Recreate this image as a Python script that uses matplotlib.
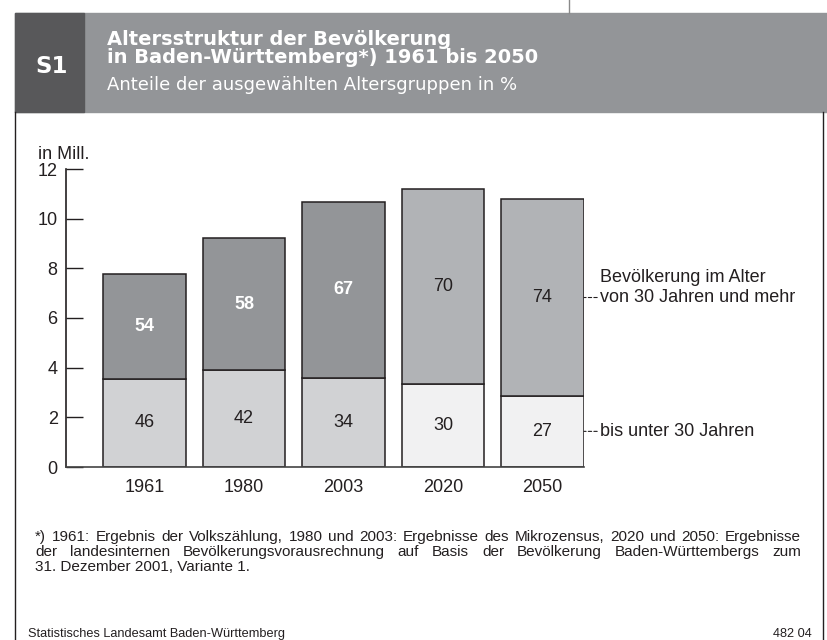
import matplotlib
matplotlib.use('Agg')
import matplotlib.pyplot as plt
from matplotlib.patches import Rectangle
from matplotlib.lines import Line2D
import numpy as np

plt.rcParams['font.family'] = ['Liberation Sans', 'DejaVu Sans']

# Daten (Mill. Einwohner)
jahre = ['1961', '1980', '2003', '2020', '2050']
gesamt = [7.76, 9.23, 10.68, 11.19, 10.78]
unter30 = [3.55, 3.89, 3.60, 3.36, 2.87]
anteil_unter30 = ['46', '42', '34', '30', '27']
anteil_ab30 = ['54', '58', '67', '70', '74']
ab30 = [g - u for g, u in zip(gesamt, unter30)]

W, H = 827, 640
fig = plt.figure(figsize=(W / 100, H / 100), dpi=100)
renderer = fig.canvas.get_renderer()


def fx(px):
    return px / W


def fy(py):
    return 1 - py / H


# Kopfzeile
fig.patches.append(Rectangle((fx(15), fy(112)), fx(827) - fx(15), (112 - 13) / H,
                             transform=fig.transFigure, color='#939598', zorder=0))
fig.patches.append(Rectangle((fx(15), fy(112)), fx(84) - fx(15), (112 - 13) / H,
                             transform=fig.transFigure, color='#58585a', zorder=0))
kopf = ['DejaVu Sans']
fig.text(fx(35), fy(73), 'S1', color='white', fontsize=16.5, fontweight='bold',
         va='baseline', family=kopf)
fig.text(fx(107), fy(45), 'Altersstruktur der Bevölkerung', color='white',
         fontsize=14, fontweight='bold', va='baseline', family=kopf)
fig.text(fx(107), fy(63), 'in Baden-Württemberg*) 1961 bis 2050', color='white',
         fontsize=14, fontweight='bold', va='baseline', family=kopf)
fig.text(fx(107), fy(90), 'Anteile der ausgewählten Altersgruppen in %', color='white',
         fontsize=13, va='baseline', family=kopf)

# Rahmenlinien
fig.lines.append(Line2D([fx(15), fx(15)], [fy(112), fy(640)], transform=fig.transFigure,
                        color='#231f20', lw=1))
fig.lines.append(Line2D([fx(823), fx(823)], [fy(112), fy(640)], transform=fig.transFigure,
                        color='#231f20', lw=1))
fig.lines.append(Line2D([fx(569), fx(569)], [fy(0), fy(13)], transform=fig.transFigure,
                        color='#8a8a8a', lw=1))

# Diagramm
ax = fig.add_axes([fx(66), fy(467), (584 - 66) / W, (467 - 169) / H])
x = np.arange(len(jahre))
breite = 0.834
farbe_unten = ['#d1d2d4'] * 3 + ['#f1f1f2'] * 2
farbe_oben = ['#939598'] * 3 + ['#b1b3b6'] * 2
ax.bar(x, unter30, width=breite, color=farbe_unten, edgecolor='#231f20', linewidth=1.1)
ax.bar(x, ab30, bottom=unter30, width=breite, color=farbe_oben, edgecolor='#231f20',
       linewidth=1.1)

for i in range(len(jahre)):
    ax.text(x[i], unter30[i] / 2, anteil_unter30[i], ha='center', va='center',
            fontsize=13, color='#231f20')
    if i < 3:
        ax.text(x[i], unter30[i] + ab30[i] / 2, anteil_ab30[i], ha='center', va='center',
                fontsize=13, color='white', fontweight='bold')
    else:
        ax.text(x[i], unter30[i] + ab30[i] / 2, anteil_ab30[i], ha='center', va='center',
                fontsize=13, color='#231f20')

ax.set_xlim(-0.789, x[-1] + breite / 2)
ax.set_ylim(0, 12)
ax.set_yticks(range(0, 13, 2))
ax.set_xticks(x, jahre)
ax.tick_params(axis='y', direction='in', length=12.5, width=1, pad=6, labelsize=13,
               colors='#231f20')
ax.tick_params(axis='x', length=0, pad=9, labelsize=13, colors='#231f20')
ax.spines['top'].set_visible(False)
ax.spines['right'].set_visible(False)
ax.spines['left'].set_color('#231f20')
ax.spines['left'].set_linewidth(1.2)
ax.spines['bottom'].set_color('#444444')
ax.spines['bottom'].set_linewidth(1.2)
ax.patch.set_alpha(0)

fig.text(fx(38), fy(159), 'in Mill.', fontsize=13, color='#231f20', va='baseline')

# Beschriftung rechts mit Hinweislinien
rechts = x[-1] + breite / 2
strich = dict(arrowstyle='-', linestyle=(0, (3, 2)), lw=0.8, color='#231f20',
              shrinkA=0, shrinkB=0)
ax.annotate('von 30 Jahren und mehr', xy=(rechts, unter30[-1] + ab30[-1] / 2),
            xytext=(11.5, 0), textcoords='offset points', ha='left', va='center',
            fontsize=13, color='#231f20', arrowprops=strich, annotation_clip=False)
ax.annotate('Bevölkerung im Alter', xy=(rechts, unter30[-1] + ab30[-1] / 2),
            xytext=(11.5, 14.5), textcoords='offset points', ha='left', va='center',
            fontsize=13, color='#231f20', annotation_clip=False)
ax.annotate('bis unter 30 Jahren', xy=(rechts, unter30[-1] / 2),
            xytext=(11.5, 0), textcoords='offset points', ha='left', va='center',
            fontsize=13, color='#231f20', arrowprops=strich, annotation_clip=False)

# Fussnote im Blocksatz
zeilen = ['*) 1961: Ergebnis der Volkszählung, 1980 und 2003: Ergebnisse des Mikrozensus, '
          '2020 und 2050: Ergebnisse',
          'der landesinternen Bevölkerungsvorausrechnung auf Basis der Bevölkerung '
          'Baden-Württembergs zum']


def blocksatz(zeile, x0, x1, y, size):
    woerter = zeile.split(' ')
    texte = [fig.text(0, fy(y), w, fontsize=size, va='baseline', color='#231f20')
             for w in woerter]
    breiten = [t.get_window_extent(renderer).width for t in texte]
    luecke = (x1 - x0 - sum(breiten)) / (len(woerter) - 1)
    pos = x0
    for t, b in zip(texte, breiten):
        t.set_x(fx(pos))
        pos += b + luecke


blocksatz(zeilen[0], 35, 801, 541, 11)
blocksatz(zeilen[1], 35, 801, 556, 11)
fig.text(fx(35), fy(571), '31. Dezember 2001, Variante 1.', fontsize=11,
         va='baseline', color='#231f20')

fig.text(fx(28), fy(637), 'Statistisches Landesamt Baden-Württemberg', fontsize=9.2,
         va='baseline', color='#231f20')
fig.text(fx(812), fy(637), '482 04', fontsize=9.2, va='baseline', ha='right',
         color='#231f20')

fig.savefig('out.png', dpi=100)
